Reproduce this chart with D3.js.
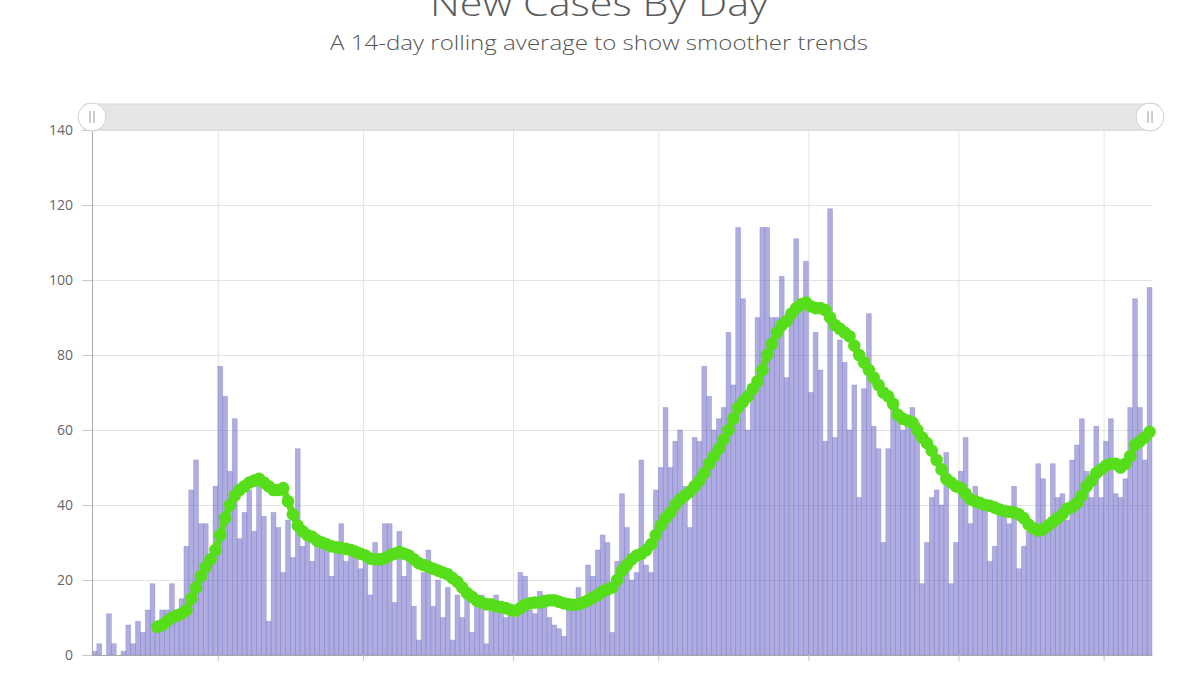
<!DOCTYPE html>
<html>
<head>
<meta charset="utf-8">
<script src="https://cdn.jsdelivr.net/npm/d3@7"></script>
<style>
    html, body { margin: 0; padding: 0; background: #fff; }
    svg { display: block; font-family: "Open Sans", "Noto Sans", sans-serif; }
</style>
</head>
<body>
<svg id="chart"></svg>
<script>
// first day of the series
const firstDay = "2020-03-06";

// new cases per day, Mar 6 -> Oct 10
const newCases = [
    // Mar
    1, 3, 0, 11, 3, 0, 1, 8, 3, 9, 6, 12, 19, 7, 12, 12, 19, 12, 15, 29, 44, 52, 35, 35, 26, 45,
    // Apr
    77, 69, 49, 63, 31, 38, 44, 33, 46, 37, 9, 38, 34, 22, 36, 26, 55, 29, 33, 25,
    32, 30, 29, 21, 30, 35, 25, 29, 28, 23,
    // May
    27, 16, 30, 24, 35, 35, 14, 33, 21, 27, 13, 4, 22, 28, 13, 20, 10, 18, 4, 16,
    10, 15, 6, 13, 16, 3, 12, 16, 14, 10, 11,
    // Jun
    10, 22, 21, 12, 11, 17, 16, 10, 8, 7, 5, 12, 13, 18, 13, 24, 21, 28, 32, 30,
    6, 25, 43, 34, 20, 22, 52, 24, 22, 44,
    // Jul
    50, 66, 50, 57, 60, 45, 34, 58, 57, 77, 69, 60, 63, 66, 86, 72, 114, 95, 60, 72,
    90, 114, 114, 90, 90, 101, 74, 90, 111, 94, 105,
    // Aug
    70, 86, 76, 57, 119, 58, 84, 78, 60, 72, 42, 71, 91, 61, 55, 30, 55, 66, 64, 60,
    62, 66, 62, 19, 30, 42, 44, 40, 54, 19, 30,
    // Sep
    49, 58, 35, 45, 42, 40, 25, 29, 40, 40, 35, 45, 23, 29, 33, 33, 51, 47, 33, 51,
    42, 43, 36, 52, 56, 63, 49, 42, 61, 42,
    // Oct
    57, 63, 43, 42, 47, 66, 95, 66, 52, 98
];

// 14-day rolling average (nothing before the 14th day)
const rollingAvg = [
    // Mar
    null, null, null, null, null, null, null, null, null, null, null, null, null,
    7.5, 8, 9, 10, 10.5, 11, 12, 15, 18, 21, 23.5, 25.5, 28,
    // Apr
    32, 36.5, 40, 42.5, 44, 45, 46, 46.5, 47, 46, 45, 44, 44, 44.5, 41, 37.5, 34.5, 33, 32, 31.5,
    30.5, 30, 29.5, 29, 28.7, 28.5, 28.3, 28, 27.5, 27,
    // May
    26.5, 25.7, 25.5, 25.5, 25.8, 26.5, 27, 27.5, 27, 26.5, 25.5, 24.5, 24, 23.5, 23, 22.5, 22, 21.5, 20.5, 19.5,
    18, 16.5, 15.5, 14.5, 14, 13.5, 13.5, 13, 12.8, 12.5, 12,
    // Jun
    11.8, 12.5, 13.4, 13.8, 14, 14, 14.3, 14.6, 14.6, 14.2, 13.8, 13.5, 13.4, 13.5, 14, 14.6, 15.3, 16, 17, 17.5,
    18, 20, 22.5, 24, 25.5, 26.5, 27, 28, 29.5, 32,
    // Jul
    34.5, 36.5, 38, 40, 41.5, 42.5, 43.5, 45, 46.5, 48.5, 51, 53, 55, 57.5, 60, 63, 66, 67.5, 69, 71,
    73, 76, 80, 83, 86, 88, 89, 91, 92.5, 93.5, 94,
    // Aug
    93, 92.5, 92.5, 92, 90, 88, 87, 86, 85, 82.5, 80, 78, 76, 74, 72, 70, 69, 67, 64, 63,
    62.5, 62, 60, 58, 56.5, 54.5, 52, 49.5, 47, 46, 45,
    // Sep
    44.5, 43, 41.5, 41, 40.5, 40, 39.8, 39.3, 38.8, 38.4, 38.2, 38, 37.5, 36.5, 34.8, 33.8, 33.2, 33.5, 34.5, 35.5,
    36.5, 37.5, 39, 39.5, 40.5, 42.5, 45, 46.5, 48.5, 49.5,
    // Oct
    50.5, 51, 51, 50, 51, 53, 56, 57, 58, 59.5
];

const yTicks = [0, 20, 40, 60, 80, 100, 120, 140];
const monthTicks = ["2020-04-01", "2020-05-01", "2020-06-01", "2020-07-01", "2020-08-01", "2020-09-01", "2020-10-01"];

const titleText = "New Cases By Day";
const subtitleText = "A 14-day rolling average to show smoother trends";

/**
 * 일별 확진자 막대 + 14일 이동평균 점선 차트
 */
class CasesChart {
    #config = {
        target: '#chart',
        width: 1200, height: 673,
        margin: { top: 130, right: 48, bottom: 18, left: 92 },
        color: {
            bar: "#6e69c6", barStroke: "#7f7bcc", dot: "#57de1b",
            grid: "#e4e4e4", axis: "#a8a8a8", text: "#5a5a5a"
        }
    };

    #cases; #avg;

    constructor(cases, avg) {
        this.#cases = cases;
        this.#avg = avg;
    }

    show() {
        const c = this.#config;
        const svg = d3.select(c.target)
            .attr("width", c.width)
            .attr("height", c.height);

        svg.append("rect").attr("width", c.width).attr("height", c.height).attr("fill", "#fff");

        // dates for each value
        const start = d3.utcParse("%Y-%m-%d")(firstDay);
        const days = this.#cases.map((_, i) => d3.utcDay.offset(start, i));
        const end = d3.utcDay.offset(start, days.length);

        const x = d3.scaleUtc()
            .domain([start, end])
            .range([c.margin.left, c.width - c.margin.right]);

        const y = d3.scaleLinear()
            .domain([0, 140])
            .range([c.height - c.margin.bottom, c.margin.top]);

        this.#drawTitles(svg);
        this.#drawGrid(svg, x, y);
        this.#drawBars(svg, x, y, days);
        this.#drawAxes(svg, x, y);
        this.#drawAverage(svg, x, y, days);
        this.#drawScrollbar(svg, x);
    }

    #drawTitles(svg) {
        const c = this.#config;
        // title is cut by the top edge, as in the source
        svg.append("text")
            .attr("x", 599).attr("y", 16)
            .attr("text-anchor", "middle")
            .attr("font-size", 34)
            .attr("font-weight", 300)
            .attr("fill", c.color.text)
            .attr("textLength", 338)
            .attr("lengthAdjust", "spacingAndGlyphs")
            .text(titleText);

        svg.append("text")
            .attr("x", 599).attr("y", 50)
            .attr("text-anchor", "middle")
            .attr("font-size", 20)
            .attr("font-weight", 300)
            .attr("fill", "#555")
            .attr("textLength", 538)
            .attr("lengthAdjust", "spacingAndGlyphs")
            .text(subtitleText);
    }

    #drawGrid(svg, x, y) {
        const c = this.#config;
        const parse = d3.utcParse("%Y-%m-%d");
        const [x0, x1] = x.range();
        const [y0, y1] = y.range();

        // horizontal grid
        svg.append("g")
            .attr("transform", `translate(${x0}, 0)`)
            .call(d3.axisLeft(y).tickValues(yTicks).tickSize(-(x1 - x0)).tickFormat(""))
            .call(g => g.select(".domain").remove())
            .call(g => g.selectAll("line").attr("stroke", c.color.grid));

        // vertical grid on month starts
        svg.append("g")
            .attr("transform", `translate(0, ${y0})`)
            .call(d3.axisBottom(x).tickValues(monthTicks.map(parse)).tickSize(-(y0 - y1)).tickFormat(""))
            .call(g => g.select(".domain").remove())
            .call(g => g.selectAll("line").attr("stroke", c.color.grid));
    }

    #drawBars(svg, x, y, days) {
        const c = this.#config;
        svg.append("g")
            .attr("class", "bars")
            .selectAll("rect")
            .data(this.#cases)
            .join("rect")
            .attr("x", (d, i) => x(days[i]))
            .attr("width", (d, i) => x(d3.utcDay.offset(days[i], 1)) - x(days[i]))
            .attr("y", d => y(d))
            .attr("height", d => y(0) - y(d))
            .attr("fill", c.color.bar)
            .attr("fill-opacity", 0.55)
            .attr("stroke", c.color.barStroke)
            .attr("stroke-opacity", 0.55)
            .attr("stroke-width", 0.6);
    }

    #drawAxes(svg, x, y) {
        const c = this.#config;
        const parse = d3.utcParse("%Y-%m-%d");
        const [x0] = x.range();
        const [y0] = y.range();

        // Y Axis
        svg.append("g")
            .attr("transform", `translate(${x0}, 0)`)
            .call(d3.axisLeft(y).tickValues(yTicks).tickSize(10).tickPadding(9))
            .call(g => g.select(".domain").attr("stroke", c.color.axis))
            .call(g => g.selectAll("line").attr("stroke", "#c8c8c8"))
            .call(g => g.selectAll("text")
                .attr("font-size", 14)
                .attr("fill", "#666")
                .attr("font-family", "'Open Sans', sans-serif"));

        // X Axis, labels fall below the frame
        svg.append("g")
            .attr("transform", `translate(0, ${y0})`)
            .call(d3.axisBottom(x).tickValues(monthTicks.map(parse)).tickSize(6).tickFormat("").tickSizeOuter(0))
            .call(g => g.select(".domain").attr("stroke", c.color.axis))
            .call(g => g.selectAll("line").attr("stroke", "#c8c8c8"));
    }

    #drawAverage(svg, x, y, days) {
        const c = this.#config;
        const pts = this.#avg
            .map((v, i) => ({ v, t: d3.utcHour.offset(days[i], 12) }))
            .filter(d => d.v !== null);

        const line = d3.line()
            .x(d => x(d.t))
            .y(d => y(d.v));

        const g = svg.append("g").attr("class", "avg");

        g.append("path")
            .datum(pts)
            .attr("fill", "none")
            .attr("stroke", c.color.dot)
            .attr("stroke-width", 7)
            .attr("stroke-linejoin", "round")
            .attr("d", line);

        g.selectAll("circle")
            .data(pts)
            .join("circle")
            .attr("cx", d => x(d.t))
            .attr("cy", d => y(d.v))
            .attr("r", 6.3)
            .attr("fill", c.color.dot);
    }

    #drawScrollbar(svg, x) {
        const [x0, x1] = x.range();
        const cy = 117;
        const g = svg.append("g").attr("class", "scrollbar");

        g.append("rect")
            .attr("x", x0 - 10).attr("y", cy - 13)
            .attr("width", x1 - x0 + 18).attr("height", 26)
            .attr("rx", 5)
            .attr("fill", "#e6e6e6")
            .attr("stroke", "#dadada");

        for (const gx of [x0, x1 - 2]) {
            g.append("circle")
                .attr("cx", gx).attr("cy", cy).attr("r", 14)
                .attr("fill", "#fff")
                .attr("stroke", "#d0d0d0");
            for (const dx of [-2, 2]) {
                g.append("line")
                    .attr("x1", gx + dx).attr("x2", gx + dx)
                    .attr("y1", cy - 6).attr("y2", cy + 6)
                    .attr("stroke", "#999")
                    .attr("stroke-width", 1);
            }
        }
    }
}

const chart = new CasesChart(newCases, rollingAvg);
chart.show();
</script>
</body>
</html>
